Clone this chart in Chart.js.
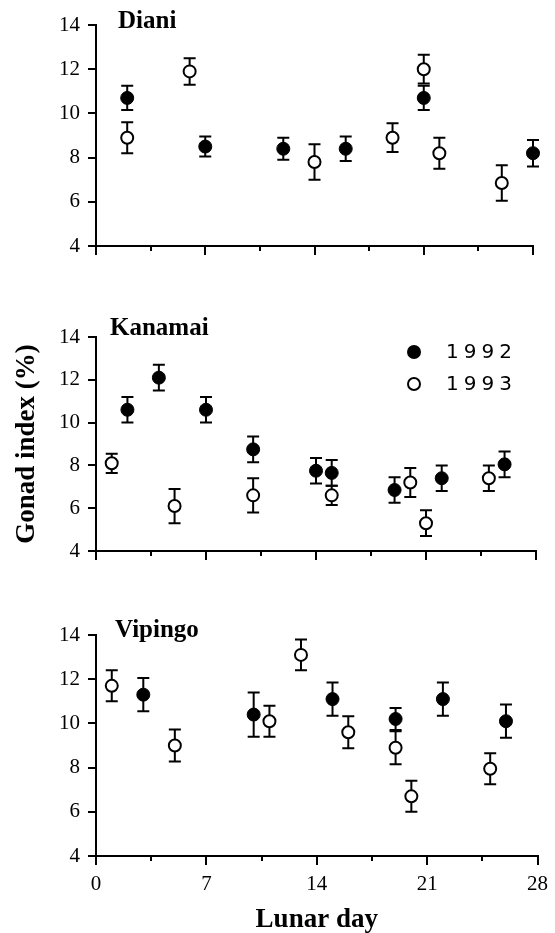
<!DOCTYPE html>
<html lang="en">
<head>
<meta charset="UTF-8">
<title>Gonad index by lunar day</title>
<script src="https://cdn.jsdelivr.net/npm/chart.js"></script>
<style>
  html, body { margin: 0; padding: 0; background: #fff; overflow: hidden; }
  .wrap { position: relative; width: 555px; height: 933px; }
  canvas { position: absolute; left: 0; top: 0; }
</style>
</head>
<body>
<div class="wrap">
  <canvas id="diani" width="555" height="940"></canvas>
  <canvas id="kanamai" width="555" height="940"></canvas>
  <canvas id="vipingo" width="555" height="940"></canvas>
</div>
<script>
// lunar day / gonad index (%) / error
const dianiDays92 = [2, 7, 12, 16, 21, 28];
const dianiGI92   = [10.7, 8.5, 8.4, 8.4, 10.7, 8.2];
const dianiSE92   = [0.55, 0.45, 0.5, 0.55, 0.55, 0.6];
const dianiDays93 = [2, 6, 14, 19, 21, 22, 26];
const dianiGI93   = [8.9, 11.9, 7.8, 8.9, 12.0, 8.2, 6.85];
const dianiSE93   = [0.7, 0.6, 0.8, 0.65, 0.65, 0.7, 0.8];

const kanamaiDays92 = [2, 4, 7, 10, 14, 15, 19, 22, 26];
const kanamaiGI92   = [10.6, 12.1, 10.6, 8.75, 7.75, 7.65, 6.85, 7.4, 8.05];
const kanamaiSE92   = [0.6, 0.6, 0.6, 0.6, 0.6, 0.6, 0.6, 0.6, 0.6];
const kanamaiDays93 = [1, 5, 10, 15, 20, 21, 25];
const kanamaiGI93   = [8.1, 6.1, 6.6, 6.6, 7.2, 5.3, 7.4];
const kanamaiSE93   = [0.45, 0.8, 0.8, 0.45, 0.68, 0.6, 0.6];

const vipingoDays92 = [3, 10, 15, 19, 22, 26];
const vipingoGI92   = [11.3, 10.4, 11.1, 10.2, 11.1, 10.1];
const vipingoSE92   = [0.75, 1.0, 0.75, 0.5, 0.75, 0.75];
const vipingoDays93 = [1, 5, 11, 13, 16, 19, 20, 25];
const vipingoGI93   = [11.7, 9.0, 10.1, 13.1, 9.6, 8.9, 6.7, 7.95];
const vipingoSE93   = [0.7, 0.72, 0.7, 0.7, 0.72, 0.75, 0.7, 0.7];

const yTicks = [4, 6, 8, 10, 12, 14];
const xTicks = [0, 7, 14, 21, 28];
const xMinorTicks = [3.5, 10.5, 17.5, 24.5];
const years = ['1992', '1993'];

Chart.defaults.font.family = '"Liberation Serif", "Times New Roman", serif';
Chart.defaults.color = '#000';

function pts(days, vals, errs) {
  return days.map((d, i) => ({ x: d, y: vals[i], e: errs[i] }));
}

const errorBars = {
  id: 'errorBars',
  beforeDatasetsDraw(chart) {
    const { ctx, scales: { x, y } } = chart;
    ctx.save();
    ctx.strokeStyle = '#000';
    ctx.lineWidth = 2;
    chart.data.datasets.forEach(ds => {
      ds.data.forEach(p => {
        const px = x.getPixelForValue(p.x);
        const top = y.getPixelForValue(p.y + p.e);
        const bot = y.getPixelForValue(p.y - p.e);
        ctx.beginPath();
        ctx.moveTo(px, top); ctx.lineTo(px, bot);
        ctx.moveTo(px - 6, top); ctx.lineTo(px + 6, top);
        ctx.moveTo(px - 6, bot); ctx.lineTo(px + 6, bot);
        ctx.stroke();
      });
    });
    ctx.restore();
  }
};

// short ticks half way between the labelled days
const minorTicks = {
  id: 'minorTicks',
  afterDraw(chart) {
    const { ctx, scales: { x }, chartArea } = chart;
    ctx.save();
    ctx.strokeStyle = '#000';
    ctx.lineWidth = 2;
    xMinorTicks.forEach(v => {
      const px = Math.round(x.getPixelForValue(v));
      ctx.beginPath();
      ctx.moveTo(px, chartArea.bottom);
      ctx.lineTo(px, chartArea.bottom + 5);
      ctx.stroke();
    });
    ctx.restore();
  }
};

const panelLabel = {
  id: 'panelLabel',
  afterDraw(chart, args, opts) {
    const { ctx, chartArea } = chart;
    ctx.save();
    ctx.font = 'bold 25px "Liberation Serif", serif';
    ctx.fillStyle = '#000';
    ctx.textBaseline = 'alphabetic';
    ctx.fillText(opts.text, chartArea.left + opts.dx, chartArea.top + opts.dy);
    ctx.restore();
  }
};

const yearLegend = {
  id: 'yearLegend',
  afterDraw(chart, args, opts) {
    if (!opts.show) return;
    const { ctx } = chart;
    ctx.save();
    ctx.font = '20px "DejaVu Sans", sans-serif';
    ctx.textBaseline = 'middle';
    ctx.fillStyle = '#000';
    ctx.strokeStyle = '#000';
    ctx.lineWidth = 2;
    years.forEach((yr, i) => {
      const cy = opts.y + i * 32;
      ctx.beginPath();
      ctx.arc(opts.x, cy, i === 0 ? 7 : 6, 0, Math.PI * 2);
      if (i === 0) ctx.fill(); else ctx.stroke();
      ctx.letterSpacing = '5px';
      ctx.fillText(yr, opts.x + 32, cy + 1);
    });
    ctx.restore();
  }
};

function makePanel(id, p) {
  const H = 940;
  const xh = p.xLabels ? H - p.bottom : 20;
  new Chart(document.getElementById(id), {
    type: 'scatter',
    data: {
      datasets: [
        {
          label: years[0],
          data: p.d92,
          pointRadius: 6.5,
          pointBorderWidth: 1,
          pointBackgroundColor: '#000',
          pointBorderColor: '#000',
          order: 1,
          clip: false
        },
        {
          label: years[1],
          data: p.d93,
          pointRadius: 6,
          pointBorderWidth: 2,
          pointBackgroundColor: '#fff',
          pointBorderColor: '#000',
          order: 0,
          clip: false
        }
      ]
    },
    options: {
      responsive: false,
      animation: false,
      devicePixelRatio: 1,
      layout: {
        padding: { left: 0, top: p.top, right: 555 - p.right, bottom: H - p.bottom - xh }
      },
      plugins: {
        legend: { display: false },
        tooltip: { enabled: false },
        panelLabel: { text: p.name, dx: p.dx, dy: p.dy },
        yearLegend: { show: !!p.legend, x: 414, y: 352 }
      },
      scales: {
        x: {
          type: 'linear',
          min: 0,
          max: 28,
          afterBuildTicks: s => { s.ticks = xTicks.map(v => ({ value: v })); },
          afterFit: s => { s.height = xh; },
          border: { color: '#000', width: 2 },
          grid: { drawOnChartArea: false, color: '#000', lineWidth: 2, tickLength: 9 },
          ticks: {
            display: p.xLabels,
            autoSkip: false,
            maxRotation: 0,
            padding: 7,
            font: { size: 21 },
            color: '#000'
          },
          title: {
            display: p.xLabels,
            text: 'Lunar day',
            font: { size: 27, weight: 'bold' },
            color: '#000',
            padding: { top: 0, bottom: 4 }
          }
        },
        y: {
          min: 4,
          max: 14,
          afterBuildTicks: s => { s.ticks = yTicks.map(v => ({ value: v })); },
          afterFit: s => { s.width = 96; },
          border: { color: '#000', width: 2 },
          grid: { drawOnChartArea: false, color: '#000', lineWidth: 2, tickLength: 8 },
          ticks: { padding: 8, font: { size: 21 }, color: '#000' },
          title: {
            display: !!p.yTitle,
            text: 'Gonad index (%)',
            font: { size: 27, weight: 'bold' },
            color: '#000',
            padding: { top: 11, bottom: 0 }
          }
        }
      }
    },
    plugins: [errorBars, minorTicks, panelLabel, yearLegend]
  });
}

makePanel('diani', {
  name: 'Diani', top: 25, bottom: 246, right: 533, dx: 22, dy: 3,
  d92: pts(dianiDays92, dianiGI92, dianiSE92),
  d93: pts(dianiDays93, dianiGI93, dianiSE93),
  xLabels: false
});
makePanel('kanamai', {
  name: 'Kanamai', top: 337, bottom: 551, right: 536, dx: 14, dy: -2,
  d92: pts(kanamaiDays92, kanamaiGI92, kanamaiSE92),
  d93: pts(kanamaiDays93, kanamaiGI93, kanamaiSE93),
  xLabels: false, yTitle: true, legend: true
});
makePanel('vipingo', {
  name: 'Vipingo', top: 635, bottom: 856, right: 539, dx: 19, dy: 2,
  d92: pts(vipingoDays92, vipingoGI92, vipingoSE92),
  d93: pts(vipingoDays93, vipingoGI93, vipingoSE93),
  xLabels: true
});
</script>
</body>
</html>
